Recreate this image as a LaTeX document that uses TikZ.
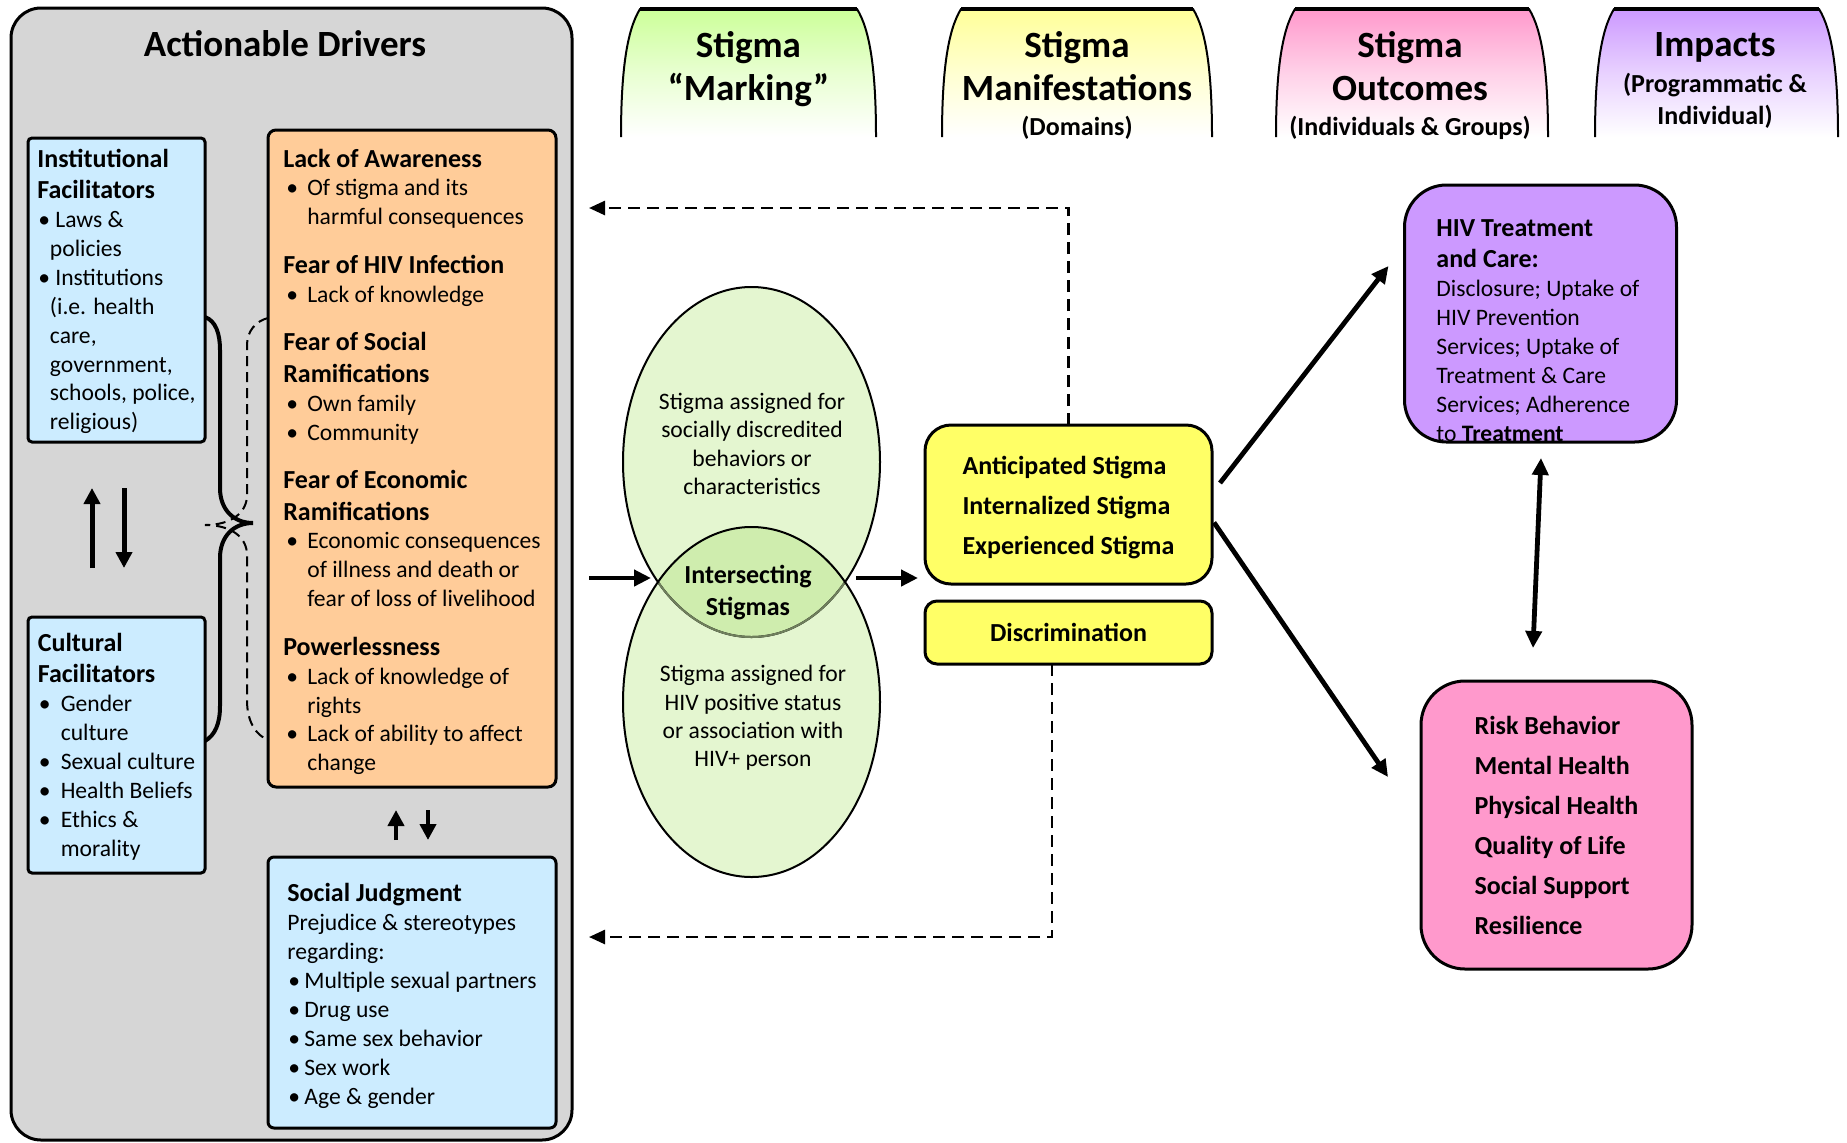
\documentclass[tikz,border=0pt]{standalone}
\usepackage{fontspec}
\setmainfont{Carlito}
\usetikzlibrary{arrows.meta,calc,positioning}

\definecolor{drivergray}{HTML}{D6D6D6}
\definecolor{facilblue}{HTML}{CCECFF}
\definecolor{fearorange}{HTML}{FFCC99}
\definecolor{manifyellow}{HTML}{FFFF66}
\definecolor{impactpurple}{HTML}{CC99FF}
\definecolor{outcpink}{HTML}{FF99CC}
\definecolor{markgreen}{HTML}{CCFF99}
\definecolor{headyellow}{HTML}{FFFF99}
\definecolor{ovalgreen}{HTML}{E4F6D0}
\definecolor{lensgreen}{HTML}{CFEDAE}
\definecolor{lensline}{HTML}{6F7F5C}

\newcommand{\titlefnt}{\fontsize{18.5}{21.5}\selectfont\bfseries}
\newcommand{\headfnt}{\fontsize{13}{15}\selectfont\bfseries}
\newcommand{\bodyfnt}{\fontsize{11.8}{14.45}\selectfont}
% bullet: offset, then box width up to the text
\newcommand{\bul}[3]{\hspace*{#1}\makebox[#2][l]{\textbullet}#3}
% first line strut, pushes a centred block down
\newcommand{\topstrut}[1]{\rule{0pt}{#1}}

\tikzset{
  box/.style={draw, line width=1.5pt, align=left, inner sep=0pt, outer sep=0pt, font=\bodyfnt},
  facilbox/.style={box, fill=facilblue, rounded corners=2pt, minimum width=88.5pt},
  fearbox/.style={box, fill=fearorange, rounded corners=4pt, minimum width=144pt},
  manifbox/.style={box, fill=manifyellow, minimum width=143.5pt, font=\fontsize{13}{20}\selectfont\bfseries},
  impactbox/.style={box, minimum width=136pt, rounded corners=21pt},
  colhead/.style={align=center, inner sep=0pt, font=\titlefnt, anchor=north},
  ovaltext/.style={align=center, inner sep=0pt, font=\fontsize{11.8}{14.15}\selectfont},
  pairarrow/.style={line width=2.5pt, -{Triangle[length=8pt,width=8pt]}},
  thickarrow/.style={line width=2.4pt, -{Triangle[length=8.5pt,width=8pt]}},
  feedback/.style={line width=1.3pt, dash pattern=on 6pt off 3.5pt, -{Triangle[length=8pt,width=7pt]}},
}

\begin{document}
\begin{tikzpicture}[x=0.5pt,y=-0.5pt]
\useasboundingbox (0,0) rectangle (1847,1142);

% actionable drivers panel
\draw[line width=1.5pt, fill=drivergray, rounded corners=15pt] (11,8) rectangle (572,1140);
\node[font=\titlefnt, inner sep=0pt] (drivers) at (285,44) {Actionable Drivers};

\node[facilbox, minimum height=152pt] (inst) at (116.5,290) {{\headfnt\topstrut{10.5pt}Institutional}\\[1.3pt]
  {\headfnt Facilitators}\\
  \bul{0.5pt}{8.5pt}{Laws \&}\\
  \hspace*{6.3pt}policies\\
  \bul{0.5pt}{8.5pt}{Institutions}\\
  \hspace*{6.3pt}(i.e. health\\
  \hspace*{6.3pt}care,\\
  \hspace*{6.3pt}government,\\
  \hspace*{6.3pt}schools, police,\\
  \hspace*{6.3pt}religious)};
\node[facilbox, minimum height=128pt] (cult) at (116.5,745) {{\headfnt\topstrut{10.5pt}Cultural}\\[1.3pt]
  {\headfnt Facilitators}\\
  \bul{0.5pt}{11pt}{Gender}\\
  \hspace*{11.5pt}culture\\
  \bul{0.5pt}{11pt}{Sexual culture}\\
  \bul{0.5pt}{11pt}{Health Beliefs}\\
  \bul{0.5pt}{11pt}{Ethics \&}\\
  \hspace*{11.5pt}morality};
\node[fearbox, minimum height=328.5pt] (fear) at (412,458.5) {{\headfnt\topstrut{12.5pt}Lack of Awareness}\\
  \bul{1.5pt}{10.5pt}{Of stigma and its}\\
  \hspace*{12pt}harmful consequences\\[9.8pt]
  {\headfnt Fear of HIV Infection}\\
  \bul{1.5pt}{10.5pt}{Lack of knowledge}\\[9.8pt]
  {\headfnt Fear of Social}\\[1.3pt]
  {\headfnt Ramifications}\\
  \bul{1.5pt}{10.5pt}{Own family}\\
  \bul{1.5pt}{10.5pt}{Community}\\[9.8pt]
  {\headfnt Fear of Economic}\\[1.3pt]
  {\headfnt Ramifications}\\
  \bul{1.5pt}{10.5pt}{Economic consequences}\\
  \hspace*{12pt}of illness and death or\\
  \hspace*{12pt}fear of loss of livelihood\\[9.8pt]
  {\headfnt Powerlessness}\\
  \bul{1.5pt}{10.5pt}{Lack of knowledge of}\\
  \hspace*{12pt}rights\\
  \bul{1.5pt}{10.5pt}{Lack of ability to affect}\\
  \hspace*{12pt}change};
\node[facilbox, rounded corners=3pt, minimum width=144pt, minimum height=135.5pt] (judg) at (412,992.5) {{\headfnt\topstrut{12.5pt}Social Judgment}\\
  Prejudice \& stereotypes\\
  regarding:\\
  \bul{0.5pt}{8pt}{Multiple sexual partners}\\
  \bul{0.5pt}{8pt}{Drug use}\\
  \bul{0.5pt}{8pt}{Same sex behavior}\\
  \bul{0.5pt}{8pt}{Sex work}\\
  \bul{0.5pt}{8pt}{Age \& gender}};

% braces between the drivers
\draw[line width=1pt, dash pattern=on 5pt off 3pt] (268,318) .. controls (256,321) and (247,331) .. (247,345) -- (247,495)
  .. controls (247,513) and (231,525) .. (205,525) .. controls (231,525) and (247,537) .. (247,555) -- (247,700)
  .. controls (247,722) and (256,735) .. (268,740);
\draw[line width=2pt] (205,317) .. controls (216,321) and (220,334) .. (220,350) -- (220,488)
  .. controls (220,510) and (234,523) .. (253,523) .. controls (234,523) and (220,536) .. (220,558) -- (220,706)
  .. controls (220,724) and (215,735) .. (205,741);

\draw[pairarrow] ($(cult.north)+(-24.5,-49)$) -- ($(inst.south)+(-24.5,46)$);
\draw[pairarrow] ($(inst.south)+(7.5,46)$) -- ($(cult.north)+(7.5,-49)$);
\draw[pairarrow, line width=2.3pt] ($(judg.north)+(-16,-17)$) -- ($(fear.south)+(-16,23)$);
\draw[pairarrow, line width=2.3pt] ($(fear.south)+(16,23)$) -- ($(judg.north)+(16,-17)$);

% column heads
\foreach \xl/\xr/\col in {621/876/markgreen,942/1212/headyellow,1276/1548/outcpink,1595/1838/impactpurple}{
  \shade[top color=\col, bottom color=white, middle color=\col!45] (\xl,137) .. controls (\xl,70) and (\xl+6,30) .. (\xl+19,9)
    -- (\xr-19,9) .. controls (\xr-6,30) and (\xr,70) .. (\xr,137) -- cycle;
  \draw[line width=1pt] (\xl,137) .. controls (\xl,70) and (\xl+6,30) .. (\xl+19,9)
    -- (\xr-19,9) .. controls (\xr-6,30) and (\xr,70) .. (\xr,137);
  \draw[line width=1.8pt] (\xl+19,9) -- (\xr-19,9);
}
\node[colhead] (hmark) at (748.5,31) {Stigma\\“Marking”};
\node[colhead] (hmanif) at (1077,31) {Stigma\\Manifestations\\[-4pt]{\headfnt (Domains)}};
\node[colhead] (houtc) at (1410,31) {Stigma\\Outcomes\\[-4pt]{\headfnt (Individuals \& Groups)}};
\node[colhead, font=\fontsize{13}{16.5}\selectfont\bfseries] (himpact) at (1715,32) {{\titlefnt Impacts}\\[1.8pt](Programmatic \&\\[-0.5pt]Individual)};

% stigma marking ovals
\fill[ovalgreen] (751.5,462) ellipse [x radius=64.25pt, y radius=87.5pt];
\fill[ovalgreen] (751.5,702) ellipse [x radius=64.25pt, y radius=87.5pt];
\begin{scope}
  \clip (751.5,462) ellipse [x radius=64.25pt, y radius=87.5pt];
  \fill[lensgreen] (751.5,702) ellipse [x radius=64.25pt, y radius=87.5pt];
\end{scope}
\draw[line width=1pt] (751.5,462) ellipse [x radius=64.25pt, y radius=87.5pt];
\begin{scope}
  \clip (751.5,702) ellipse [x radius=64.25pt, y radius=87.5pt];
  \draw[line width=1pt, lensline] (751.5,462) ellipse [x radius=64.25pt, y radius=87.5pt];
\end{scope}
\draw[line width=1pt] (751.5,702) ellipse [x radius=64.25pt, y radius=87.5pt];

\node[ovaltext] (socialnote) at (752,444) {Stigma assigned for\\socially discredited\\behaviors or\\characteristics};
\node[ovaltext, font=\fontsize{13}{16}\selectfont\bfseries] (lens) at (748,593) {Intersecting\\Stigmas};
\node[ovaltext] (hivnote) at (753,718) {Stigma assigned for\\HIV positive status\\or association with\\HIV+ person};

% manifestations
\node[manifbox, rounded corners=13pt, minimum height=79.5pt] (antic) at (1068.5,504.5) {\topstrut{12.6pt}Anticipated Stigma\\Internalized Stigma\\Experienced Stigma};
\node[manifbox, rounded corners=6pt, minimum height=31.5pt] (discr) at (1068.5,632.5) {Discrimination};

% outcomes and impacts
\node[impactbox, fill=impactpurple, minimum height=128.5pt] (hiv) at (1540.5,313.5) {};
\begin{scope}
  \clip[rounded corners=21pt] (hiv.south west) rectangle (hiv.north east);
  \node[anchor=north west, align=left, inner sep=0pt, font=\fontsize{11.8}{14.5}\selectfont] (hivtext) at (1436,219) {{\headfnt HIV Treatment}\\[1.3pt]
    {\headfnt and Care:}\\
    Disclosure; Uptake of\\
    HIV Prevention\\
    Services; Uptake of\\
    Treatment \& Care\\
    Services; Adherence\\
    to {\bfseries Treatment}};
\end{scope}
\node[impactbox, fill=outcpink, minimum width=135.5pt, minimum height=144pt, rounded corners=22pt, font=\fontsize{13}{20}\selectfont\bfseries] (outc) at (1556.5,825) {Risk Behavior\\Mental Health\\Physical Health\\Quality of Life\\Social Support\\Resilience};

% connectors
\coordinate (markin) at (589,578);
\coordinate (lensW) at (651,578);
\coordinate (lensE) at (856,578);
\coordinate (manifin) at (918,578);
\coordinate (fbtop) at (589,208);
\coordinate (fbbot) at (589,937);
\draw[thickarrow] (markin) -- (lensW);
\draw[thickarrow] (lensE) -- (manifin);
\draw[feedback] (antic.north) |- (fbtop);
\draw[feedback] ($(discr.south)+(-16.5,0)$) |- (fbbot);
\draw[thickarrow] ($(antic.east)+(8,-21.5)$) -- ($(hiv.west)+(-16,-47.5)$);
\draw[thickarrow] ($(antic.east)+(2,18)$) -- ($(outc.west)+(-33,-48)$);
\draw[thickarrow, {Triangle[length=8.5pt,width=8pt]}-{Triangle[length=8.5pt,width=8pt]}] ($(hiv.south)+(0.5,16)$) -- ($(outc.north)+(-23.5,-33)$);
\end{tikzpicture}
\end{document}
